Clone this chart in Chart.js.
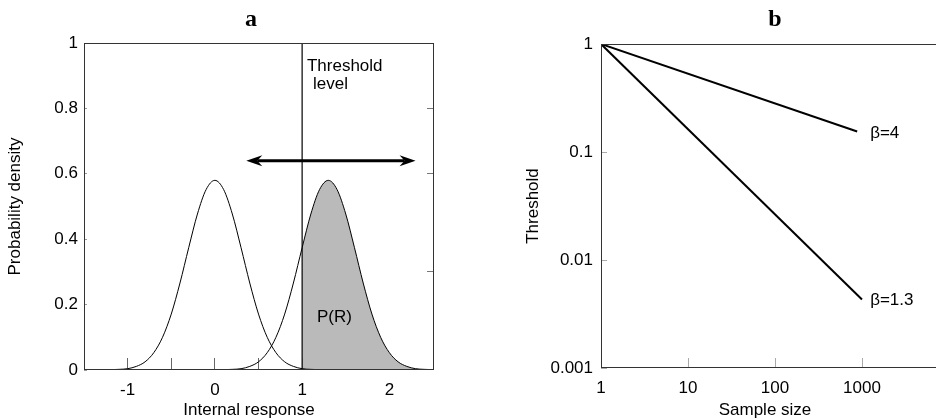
<!DOCTYPE html>
<html lang="en">
<head>
<meta charset="UTF-8">
<title>Threshold and sample size</title>
<script src="https://cdn.jsdelivr.net/npm/chart.js"></script>
<style>
  html, body { margin: 0; padding: 0; background: #fff; overflow: hidden; }
  #wrap { position: relative; width: 936px; height: 419px; overflow: hidden; }
  #panelA { position: absolute; left: 0; top: 0; }
  #panelB { position: absolute; left: 468px; top: 0; }
</style>
</head>
<body>
<div id="wrap">
  <canvas id="panelA" width="468" height="419"></canvas>
  <canvas id="panelB" width="500" height="419"></canvas>
</div>
<script>
// ---- panel a data ----
const responseX = [-1.5, -1.4, -1.3, -1.2, -1.1, -1.0, -0.9, -0.8, -0.7, -0.6, -0.5, -0.4, -0.3, -0.2, -0.1,
  0, 0.1, 0.2, 0.3, 0.4, 0.5, 0.6, 0.7, 0.8, 0.9, 1.0, 1.1, 1.2, 1.3, 1.4, 1.5, 1.6, 1.7, 1.8, 1.9,
  2.0, 2.1, 2.2, 2.3, 2.4, 2.5];
const noiseDensity = [0, 0, 0, 0.001, 0.002, 0.004, 0.011, 0.025, 0.053, 0.100, 0.171, 0.266, 0.374, 0.477, 0.552,
  0.580, 0.552, 0.477, 0.374, 0.266, 0.171, 0.100, 0.053, 0.025, 0.011, 0.004, 0.002, 0.001,
  0, 0, 0, 0, 0, 0, 0, 0, 0, 0, 0, 0, 0];
const signalDensity = [0, 0, 0, 0, 0, 0, 0, 0, 0, 0, 0, 0, 0, 0, 0, 0,
  0.001, 0.002, 0.004, 0.011, 0.025, 0.053, 0.100, 0.171, 0.266, 0.374, 0.477, 0.552,
  0.580, 0.552, 0.477, 0.374, 0.266, 0.171, 0.100, 0.053, 0.025, 0.011, 0.004, 0.002, 0.001];
const thresholdLevel = 1;
const arrowX = [0.36, 2.30];
const arrowY = 0.64;
const rightTicksA = [0.3, 0.6, 0.8];

// ---- panel b data ----
const beta4X = [1, 880];
const beta4Y = [1, 0.155];
const beta13X = [1, 1000];
const beta13Y = [1, 0.0043];
const sampleTicks = [1, 10, 100, 1000];
const thresholdTicks = [0.001, 0.01, 0.1, 1];

const SANS = '"Liberation Sans", Arial, sans-serif';
Chart.defaults.font.family = SANS;
Chart.defaults.font.size = 17;
Chart.defaults.color = '#000';

const toPts = (xs, ys) => xs.map((x, i) => ({ x: x, y: ys[i] }));

// plot frame, panel letter and the x axis caption
function decorate(chart, letter, letterX, caption, captionX) {
  const { ctx, chartArea } = chart;
  ctx.save();
  ctx.strokeStyle = '#333';
  ctx.lineWidth = 1;
  ctx.strokeRect(chartArea.left + 0.5, chartArea.top + 0.5, chartArea.width, chartArea.height - 1);
  ctx.fillStyle = '#000';
  ctx.textAlign = 'center';
  ctx.textBaseline = 'middle';
  ctx.font = 'bold 24px "Liberation Serif", "Times New Roman", serif';
  ctx.fillText(letter, letterX, 20);
  ctx.font = '17px ' + SANS;
  ctx.fillText(caption, captionX, 410);
  ctx.restore();
}

function arrowHead(ctx, x, y, dir) {
  ctx.beginPath();
  ctx.moveTo(x, y);
  ctx.lineTo(x - dir * 16, y - 5.5);
  ctx.lineTo(x - dir * 11, y);
  ctx.lineTo(x - dir * 16, y + 5.5);
  ctx.closePath();
  ctx.fill();
}

const notesA = {
  id: 'notesA',
  afterDatasetsDraw(chart) {
    const { ctx, scales: { x, y } } = chart;
    decorate(chart, 'a', 251, 'Internal response', 249);
    ctx.save();
    // double arrow
    const pts = chart.getDatasetMeta(4).data;
    ctx.strokeStyle = '#000';
    ctx.fillStyle = '#000';
    ctx.lineWidth = 3;
    ctx.beginPath();
    ctx.moveTo(pts[0].x + 11, pts[0].y);
    ctx.lineTo(pts[1].x - 11, pts[1].y);
    ctx.stroke();
    arrowHead(ctx, pts[0].x, pts[0].y, -1);
    arrowHead(ctx, pts[1].x, pts[1].y, 1);
    // labels
    ctx.font = '17px ' + SANS;
    ctx.textAlign = 'left';
    ctx.textBaseline = 'middle';
    ctx.fillText('Threshold', x.getPixelForValue(1.055), y.getPixelForValue(0.93));
    ctx.fillText('level', x.getPixelForValue(1.124), y.getPixelForValue(0.875));
    ctx.fillText('P(R)', x.getPixelForValue(1.17), y.getPixelForValue(0.162));
    ctx.restore();
  }
};

const shadeX = responseX.filter(v => v >= thresholdLevel);
const shadeY = signalDensity.slice(responseX.length - shadeX.length);

new Chart(document.getElementById('panelA'), {
  type: 'line',
  data: {
    datasets: [
      { data: toPts(responseX, noiseDensity), borderColor: '#000', borderWidth: 1, cubicInterpolationMode: 'monotone', pointRadius: 0 },
      { data: toPts(responseX, signalDensity), borderColor: '#000', borderWidth: 1, cubicInterpolationMode: 'monotone', pointRadius: 0 },
      { data: [{ x: thresholdLevel, y: 0 }, { x: thresholdLevel, y: 1 }], borderColor: '#000', borderWidth: 1.2, pointRadius: 0 },
      { data: toPts(shadeX, shadeY), borderWidth: 0, borderColor: 'rgba(0,0,0,0)', backgroundColor: '#bababa',
        fill: 'origin', cubicInterpolationMode: 'monotone', pointRadius: 0 },
      { data: arrowX.map(v => ({ x: v, y: arrowY })), showLine: false, pointRadius: 0 }
    ]
  },
  options: {
    responsive: false,
    animation: false,
    devicePixelRatio: 1,
    layout: { padding: { top: 43, right: 35, left: 0, bottom: 0 } },
    plugins: { legend: { display: false }, tooltip: { enabled: false } },
    scales: {
      x: {
        type: 'linear', min: -1.5, max: 2.5,
        border: { display: false },
        grid: { drawOnChartArea: false, tickLength: -12, tickColor: '#666' },
        ticks: { stepSize: 0.5, autoSkip: false, maxRotation: 0, padding: 22,
          callback: v => (Number.isInteger(v) && v > -1.5 && v < 2.5) ? String(v) : '' },
        afterFit: s => { s.height = 49; }
      },
      y: {
        type: 'linear', min: 0, max: 1,
        border: { display: false },
        grid: { drawOnChartArea: false, tickLength: -3, tickColor: '#999' },
        ticks: { stepSize: 0.2, padding: 9, callback: v => String(Math.round(v * 10) / 10) },
        title: { display: true, text: 'Probability density', font: { size: 17, lineHeight: 1 }, padding: { top: 7, bottom: 0 } },
        afterFit: s => { s.width = 84; }
      },
      y2: {
        type: 'linear', position: 'right', min: 0, max: 1,
        border: { display: false },
        grid: { drawOnChartArea: false, tickLength: -6, tickColor: '#777' },
        ticks: { display: false },
        afterBuildTicks: s => { s.ticks = rightTicksA.map(v => ({ value: v })); },
        afterFit: s => { s.width = 0; }
      }
    }
  },
  plugins: [notesA]
});

const notesB = {
  id: 'notesB',
  afterDatasetsDraw(chart) {
    const { ctx, scales: { x, y } } = chart;
    decorate(chart, 'b', 307, 'Sample size', 297);
    ctx.save();
    ctx.fillStyle = '#000';
    ctx.font = '17px ' + SANS;
    ctx.textAlign = 'left';
    ctx.textBaseline = 'middle';
    ctx.fillText('β=4', x.getPixelForValue(1240), y.getPixelForValue(0.15));
    ctx.fillText('β=1.3', x.getPixelForValue(1240), y.getPixelForValue(0.0042));
    ctx.restore();
  }
};

new Chart(document.getElementById('panelB'), {
  type: 'line',
  data: {
    datasets: [
      { data: toPts(beta4X, beta4Y), borderColor: '#000', borderWidth: 2, pointRadius: 0 },
      { data: toPts(beta13X, beta13Y), borderColor: '#000', borderWidth: 2, pointRadius: 0 }
    ]
  },
  options: {
    responsive: false,
    animation: false,
    devicePixelRatio: 1,
    layout: { padding: { top: 44, right: 19, left: 0, bottom: 0 } },
    plugins: { legend: { display: false }, tooltip: { enabled: false } },
    scales: {
      x: {
        type: 'logarithmic', min: 1, max: 10000,
        border: { display: false },
        grid: { drawOnChartArea: false, tickLength: -10, tickColor: '#aaa' },
        ticks: { autoSkip: false, maxRotation: 0, padding: 20, callback: v => String(v) },
        afterBuildTicks: s => { s.ticks = sampleTicks.map(v => ({ value: v })); },
        afterFit: s => { s.height = 51; }
      },
      y: {
        type: 'logarithmic', min: 0.001, max: 1,
        border: { display: false },
        grid: { drawOnChartArea: false, tickLength: -6, tickColor: '#aaa' },
        ticks: { autoSkip: false, padding: 14, callback: v => String(v) },
        afterBuildTicks: s => { s.ticks = thresholdTicks.map(v => ({ value: v })); },
        title: { display: true, text: 'Threshold', font: { size: 17, lineHeight: 1 }, padding: { top: 57, bottom: 0 } },
        afterFit: s => { s.width = 133; }
      }
    }
  },
  plugins: [notesB]
});
</script>
</body>
</html>
